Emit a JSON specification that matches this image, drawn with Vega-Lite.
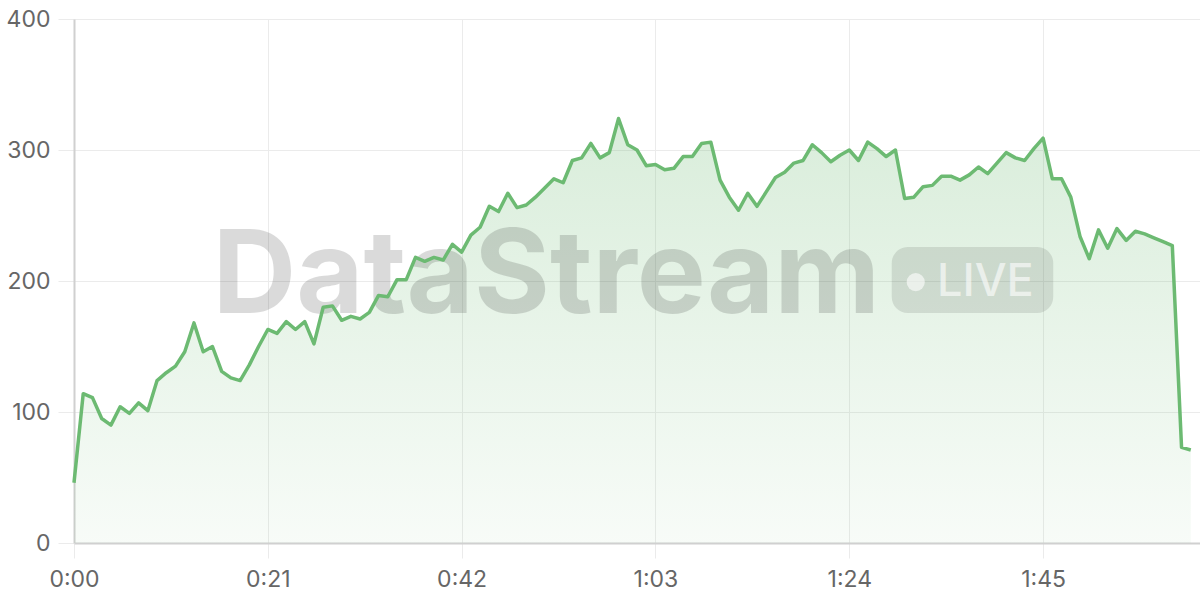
{
  "$schema": "https://vega.github.io/schema/vega-lite/v6.json",
  "width": 1126,
  "height": 524,
  "autosize": {"type": "none"},
  "padding": {"left": 74, "top": 19, "right": 0, "bottom": 57},
  "background": "#ffffff",
  "config": {
    "view": {"stroke": null},
    "axis": {
      "labelFont": "Inter",
      "labelFontSize": 23,
      "labelColor": "#666666",
      "gridColor": "#ebebeb",
      "gridWidth": 1,
      "tickColor": "#ebebeb",
      "tickWidth": 1,
      "domainColor": "#d0d0d0",
      "domainWidth": 2,
      "title": null
    }
  },
  "data": {
    "values": [
      {"t": 0, "v": 46}, {"t": 1, "v": 114}, {"t": 2, "v": 111}, {"t": 3, "v": 95}, {"t": 4, "v": 90},
      {"t": 5, "v": 104}, {"t": 6, "v": 99}, {"t": 7, "v": 107}, {"t": 8, "v": 101}, {"t": 9, "v": 124},
      {"t": 10, "v": 130}, {"t": 11, "v": 135}, {"t": 12, "v": 146}, {"t": 13, "v": 168}, {"t": 14, "v": 146},
      {"t": 15, "v": 150}, {"t": 16, "v": 131}, {"t": 17, "v": 126}, {"t": 18, "v": 124}, {"t": 19, "v": 136},
      {"t": 20, "v": 150}, {"t": 21, "v": 163}, {"t": 22, "v": 160}, {"t": 23, "v": 169}, {"t": 24, "v": 163},
      {"t": 25, "v": 169}, {"t": 26, "v": 152}, {"t": 27, "v": 180}, {"t": 28, "v": 181}, {"t": 29, "v": 170},
      {"t": 30, "v": 173}, {"t": 31, "v": 171}, {"t": 32, "v": 176}, {"t": 33, "v": 189}, {"t": 34, "v": 188},
      {"t": 35, "v": 201}, {"t": 36, "v": 201}, {"t": 37, "v": 218}, {"t": 38, "v": 215}, {"t": 39, "v": 218},
      {"t": 40, "v": 216}, {"t": 41, "v": 228}, {"t": 42, "v": 222}, {"t": 43, "v": 235}, {"t": 44, "v": 241},
      {"t": 45, "v": 257}, {"t": 46, "v": 253}, {"t": 47, "v": 267}, {"t": 48, "v": 256}, {"t": 49, "v": 258},
      {"t": 50, "v": 264}, {"t": 51, "v": 271}, {"t": 52, "v": 278}, {"t": 53, "v": 275}, {"t": 54, "v": 292},
      {"t": 55, "v": 294}, {"t": 56, "v": 305}, {"t": 57, "v": 294}, {"t": 58, "v": 298}, {"t": 59, "v": 324},
      {"t": 60, "v": 304}, {"t": 61, "v": 300}, {"t": 62, "v": 288}, {"t": 63, "v": 289}, {"t": 64, "v": 285},
      {"t": 65, "v": 286}, {"t": 66, "v": 295}, {"t": 67, "v": 295}, {"t": 68, "v": 305}, {"t": 69, "v": 306},
      {"t": 70, "v": 277}, {"t": 71, "v": 264}, {"t": 72, "v": 254}, {"t": 73, "v": 267}, {"t": 74, "v": 257},
      {"t": 75, "v": 268}, {"t": 76, "v": 279}, {"t": 77, "v": 283}, {"t": 78, "v": 290}, {"t": 79, "v": 292},
      {"t": 80, "v": 304}, {"t": 81, "v": 298}, {"t": 82, "v": 291}, {"t": 83, "v": 296}, {"t": 84, "v": 300},
      {"t": 85, "v": 292}, {"t": 86, "v": 306}, {"t": 87, "v": 301}, {"t": 88, "v": 295}, {"t": 89, "v": 300},
      {"t": 90, "v": 263}, {"t": 91, "v": 264}, {"t": 92, "v": 272}, {"t": 93, "v": 273}, {"t": 94, "v": 280},
      {"t": 95, "v": 280}, {"t": 96, "v": 277}, {"t": 97, "v": 281}, {"t": 98, "v": 287}, {"t": 99, "v": 282},
      {"t": 100, "v": 290}, {"t": 101, "v": 298}, {"t": 102, "v": 294}, {"t": 103, "v": 292}, {"t": 104, "v": 301},
      {"t": 105, "v": 309}, {"t": 106, "v": 278}, {"t": 107, "v": 278}, {"t": 108, "v": 264}, {"t": 109, "v": 234},
      {"t": 110, "v": 217}, {"t": 111, "v": 239}, {"t": 112, "v": 225}, {"t": 113, "v": 240}, {"t": 114, "v": 231},
      {"t": 115, "v": 238}, {"t": 116, "v": 236}, {"t": 117, "v": 233}, {"t": 118, "v": 230}, {"t": 119, "v": 227},
      {"t": 120, "v": 73}, {"t": 121, "v": 71}
    ]
  },
  "layer": [
    {
      "mark": {
        "type": "area",
        "interpolate": "linear",
        "color": {
          "gradient": "linear",
          "x1": 0, "y1": 0, "x2": 0, "y2": 1,
          "stops": [
            {"offset": 0, "color": "rgba(108,186,114,0.26)"},
            {"offset": 1, "color": "rgba(108,186,114,0.05)"}
          ]
        }
      },
      "encoding": {
        "x": {
          "field": "t",
          "type": "quantitative",
          "scale": {"domain": [0, 122], "nice": false, "zero": false},
          "axis": {
            "values": [0, 21, 42, 63, 84, 105],
            "labelExpr": "floor(datum.value/60) + ':' + (datum.value%60 < 10 ? '0' : '') + (datum.value%60)",
            "grid": true,
            "tickSize": 15,
            "labelPadding": 10,
            "labelFlush": false,
            "labelOverlap": false
          }
        },
        "y": {
          "field": "v",
          "type": "quantitative",
          "scale": {"domain": [0, 400], "nice": false},
          "axis": {
            "values": [0, 100, 200, 300, 400],
            "grid": true,
            "tickSize": 16,
            "labelPadding": 8,
            "labelOverlap": false
          }
        }
      }
    },
    {
      "data": {"values": [{"label": "DataStream"}]},
      "mark": {
        "type": "text",
        "font": "Inter",
        "fontWeight": 700,
        "fontSize": 116,
        "align": "left",
        "baseline": "alphabetic",
        "fill": "#000000",
        "opacity": 0.14
      },
      "encoding": {
        "text": {"field": "label"},
        "x": {"datum": 15, "type": "quantitative"},
        "y": {"datum": 175.6, "type": "quantitative"}
      }
    },
    {
      "data": {"values": [{"badge": "LIVE"}]},
      "mark": {
        "type": "rect",
        "cornerRadius": 16,
        "fill": "#000000",
        "opacity": 0.1
      },
      "encoding": {
        "x": {"datum": 88.6, "type": "quantitative"},
        "x2": {"datum": 106.1},
        "y": {"datum": 226, "type": "quantitative"},
        "y2": {"datum": 175.6}
      }
    },
    {
      "data": {"values": [{"badge": "LIVE"}]},
      "mark": {
        "type": "point",
        "shape": "circle",
        "filled": true,
        "size": 330,
        "fill": "#ffffff",
        "opacity": 0.6,
        "strokeWidth": 0
      },
      "encoding": {
        "x": {"datum": 91.2, "type": "quantitative"},
        "y": {"datum": 199.2, "type": "quantitative"}
      }
    },
    {
      "data": {"values": [{"badge": "LIVE"}]},
      "mark": {
        "type": "text",
        "font": "Inter",
        "fontWeight": 500,
        "fontSize": 45,
        "align": "left",
        "baseline": "alphabetic",
        "fill": "#ffffff",
        "opacity": 0.6
      },
      "encoding": {
        "text": {"field": "badge"},
        "x": {"datum": 93.5, "type": "quantitative"},
        "y": {"datum": 188.5, "type": "quantitative"}
      }
    },
    {
      "mark": {
        "type": "line",
        "interpolate": "linear",
        "color": "#6cba72",
        "strokeWidth": 3.5,
        "strokeJoin": "round"
      },
      "encoding": {
        "x": {"field": "t", "type": "quantitative"},
        "y": {"field": "v", "type": "quantitative"}
      }
    }
  ]
}
